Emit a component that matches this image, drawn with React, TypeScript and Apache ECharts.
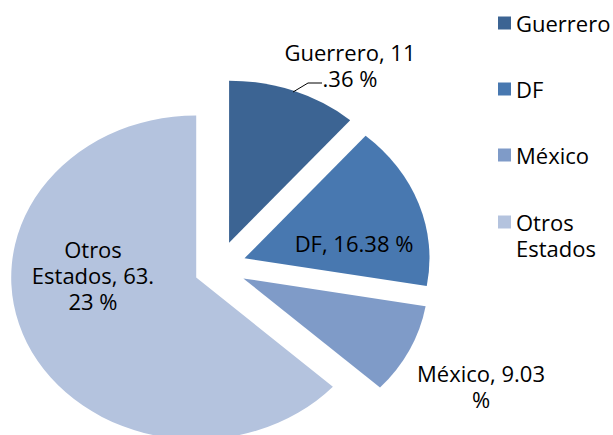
import React, { useEffect, useRef } from "react";
import * as echarts from "echarts";

const CATEGORIES = ["Guerrero", "DF", "México", "Otros Estados"];
const VALUES = [11.36, 16.38, 9.03, 63.23];
const COLORS = ["#3C6493", "#4878B0", "#7F9BC8", "#B4C3DE"];
// where each data label wraps (character indices), as in the original
const LABEL_BREAKS = [[12], [], [12], [5, 18]];

// layout
const CX = 220;
const CY = 267;
const RX = 185;
const RY = 162;
const EXPLODE = 26;
const LABEL_CENTERS = [
  [350, 65],
  [354, 243],
  [481, 386],
  [93, 275],
];
const FONT = '"Open Sans", "Liberation Sans", sans-serif';

function wrap(text: string, cuts: number[]): string {
  const parts: string[] = [];
  let prev = 0;
  for (const c of cuts) {
    parts.push(text.slice(prev, c).trim());
    prev = c;
  }
  parts.push(text.slice(prev).trim());
  return parts.join("\n");
}

export default function App() {
  const ref = useRef<HTMLDivElement>(null);
  useEffect(() => {
    if (!ref.current) return;
    const chart = echarts.init(ref.current, undefined, { renderer: "svg" });
    const total = VALUES.reduce((a, b) => a + b, 0);
    const series = CATEGORIES.map((name, i) => ({
      type: "custom",
      name,
      coordinateSystem: "none",
      itemStyle: { color: COLORS[i] },
      data: [VALUES[i]],
      renderItem: (params: any, api: any) => {
        const before = VALUES.slice(0, i).reduce((a, b) => a + b, 0);
        const value = api.value(0);
        const a0 = -Math.PI / 2 + (2 * Math.PI * before) / total;
        const a1 = -Math.PI / 2 + (2 * Math.PI * (before + value)) / total;
        const mid = (a0 + a1) / 2;
        const vx = CX + EXPLODE * Math.cos(mid);
        const vy = CY + EXPLODE * Math.sin(mid);
        const pct = ((value / total) * 100).toFixed(2);
        const labelText = wrap(`${name}, ${pct} %`, LABEL_BREAKS[i]);
        const children: any[] = [
          {
            type: "sector",
            x: vx,
            y: vy,
            scaleX: RX / RY,
            shape: { cx: 0, cy: 0, r: RY, r0: 0, startAngle: a0, endAngle: a1, clockwise: true },
            style: { fill: COLORS[i] },
          },
          {
            type: "text",
            x: LABEL_CENTERS[i][0],
            y: LABEL_CENTERS[i][1],
            style: {
              text: labelText,
              fill: "#000000",
              fontSize: 22,
              fontFamily: FONT,
              lineHeight: 26,
              align: "center",
              verticalAlign: "middle",
            },
          },
        ];
        if (i === 0) {
          children.push({
            type: "polyline",
            shape: { points: [[293, 92], [308, 83], [322, 83]] },
            style: { stroke: "#000000", lineWidth: 1, fill: "none" },
          });
        }
        return { type: "group", children };
      },
    }));

    const legendBase = {
      orient: "vertical",
      left: 498,
      padding: 0,
      itemWidth: 13,
      itemHeight: 13,
      itemGap: 40,
      icon: "rect",
      textStyle: { fontSize: 22, fontFamily: FONT, color: "#000000", lineHeight: 26 },
    };

    chart.setOption({
      animation: false,
      backgroundColor: "#ffffff",
      legend: [
        {
          ...legendBase,
          top: 10,
          data: CATEGORIES.filter((n) => !n.includes(" ")),
        },
        {
          ...legendBase,
          top: 183,
          // blank first line keeps the icon level with the first word
          formatter: (name: string) => "\n" + name.replace(" ", "\n"),
          data: CATEGORIES.filter((n) => n.includes(" ")),
        },
      ],
      series,
    } as any);
    return () => chart.dispose();
  }, []);
  return (
    <div
      ref={ref}
      style={{ position: "absolute", left: 0, top: 0, width: 613, height: 435 }}
    />
  );
}
